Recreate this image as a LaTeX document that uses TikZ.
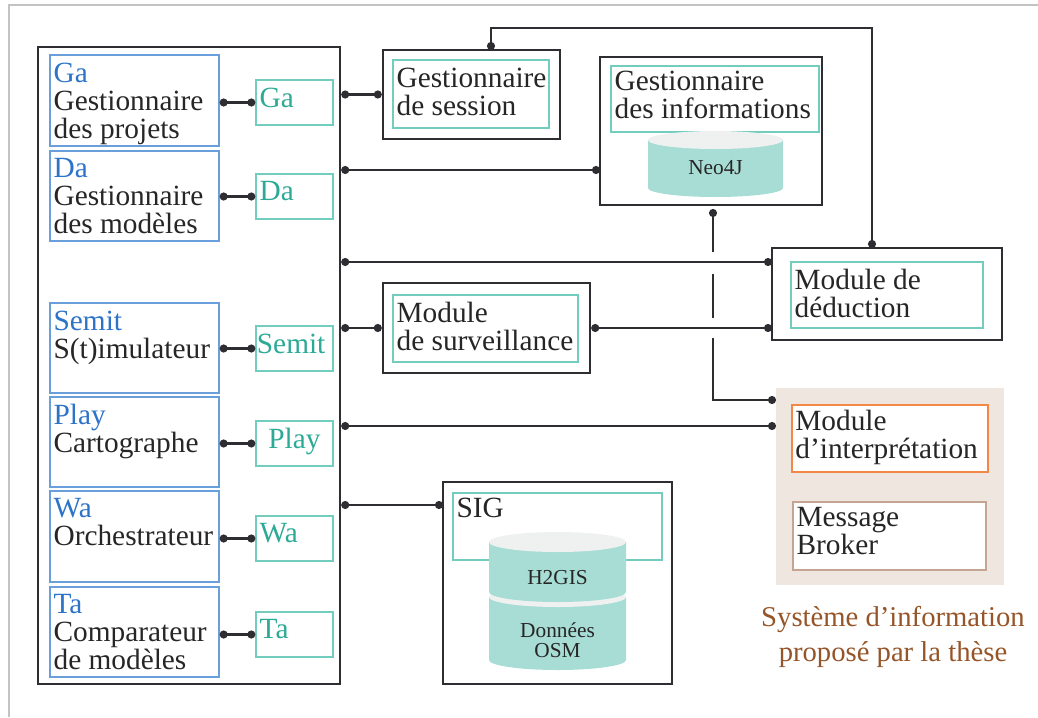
\documentclass[tikz,border=0pt]{standalone}
\usepackage{fontspec}
\setmainfont{Liberation Serif}
\usetikzlibrary{fit,calc,arrows.meta}

\definecolor{frameGrey}{RGB}{195,195,195}
\definecolor{lineDark}{RGB}{45,45,50}
\definecolor{boxBlue}{RGB}{105,160,220}
\definecolor{txtBlue}{RGB}{45,115,200}
\definecolor{boxTeal}{RGB}{115,205,190}
\definecolor{txtTeal}{RGB}{45,170,150}
\definecolor{dbBody}{RGB}{168,221,213}
\definecolor{dbTop}{RGB}{238,241,240}
\definecolor{sysBeige}{RGB}{239,230,223}
\definecolor{boxOrange}{RGB}{242,135,70}
\definecolor{boxBrown}{RGB}{195,165,145}
\definecolor{capBrown}{RGB}{150,85,40}

\begin{document}
\begin{tikzpicture}[x=0.75pt,y=-0.75pt,
  outer/.style={draw=lineDark,line width=1.8pt,inner sep=0pt},
  bluebox/.style={draw=boxBlue,line width=1pt,inner sep=0pt},
  tealbox/.style={draw=boxTeal,line width=1pt,inner sep=0pt},
  txt/.style={anchor=north west,inner xsep=3pt,inner ysep=6pt,align=left,text=black!85,
    font=\fontsize{22}{21}\selectfont},
  dbtxt/.style={inner sep=0pt,align=center,text=black!85,
    font=\fontsize{16}{15}\selectfont},
  wire/.style={draw=lineDark,line width=1.6pt},
  link/.style={wire,{Circle[length=6pt]}-{Circle[length=6pt]}},
]
\useasboundingbox (0,0) rectangle (1038,717);

% page frame
\draw[frameGrey,line width=1.5pt] (9,717) -- (9,5) -- (1038,5);

% client side
\node[outer,fit={(38,47) (340,684)}] (main) {};

\node[bluebox,fit={(50,55) (219,146)}] (gaB) {};
\node[txt] at (gaB.north west) {\textcolor{txtBlue}{Ga}\\Gestionnaire\\des projets};
\node[bluebox,fit={(50,151) (219,241)}] (daB) {};
\node[txt] at (daB.north west) {\textcolor{txtBlue}{Da}\\Gestionnaire\\des modèles};
\node[bluebox,fit={(50,303) (219,393)}] (semitB) {};
\node[txt] at (semitB.north west) {\textcolor{txtBlue}{Semit}\\S(t)imulateur};
\node[bluebox,fit={(50,397) (219,487)}] (playB) {};
\node[txt] at (playB.north west) {\textcolor{txtBlue}{Play}\\Cartographe};
\node[bluebox,fit={(50,491) (219,582)}] (waB) {};
\node[txt] at (waB.north west) {\textcolor{txtBlue}{Wa}\\Orchestrateur};
\node[bluebox,fit={(50,587) (219,677)}] (taB) {};
\node[txt] at (taB.north west) {\textcolor{txtBlue}{Ta}\\Comparateur\\de modèles};

\node[tealbox,fit={(256,80) (333,125)}] (gaT) {};
\node[txt,text=txtTeal] at (gaT.north west) {Ga};
\node[tealbox,fit={(256,174) (333,219)}] (daT) {};
\node[txt,text=txtTeal] at (daT.north west) {Da};
\node[tealbox,fit={(256,326) (333,371)}] (semitT) {};
\node[txt,text=txtTeal,inner xsep=1pt] at (semitT.north west) {Semit};
\node[tealbox,fit={(256,421) (333,466)}] (playT) {};
\node[txt,text=txtTeal,anchor=north] at (playT.north) {Play};
\node[tealbox,fit={(256,516) (333,561)}] (waT) {};
\node[txt,text=txtTeal] at (waT.north west) {Wa};
\node[tealbox,fit={(256,612) (333,657)}] (taT) {};
\node[txt,text=txtTeal] at (taT.north west) {Ta};

\foreach \m in {ga,da,semit,play,wa,ta}
  \draw[link] (\m B.east |- \m T.west) -- (\m T.west);

% server side
\node[outer,fit={(383,50) (560,139)}] (sess) {};
\node[tealbox,fit={(393,60) (549,128)}] (sessIn) {};
\node[txt] at (sessIn.north west) {Gestionnaire\\de session};

\node[outer,fit={(600,57) (822,205)}] (info) {};
\node[tealbox,fit={(611,66) (819,132)}] (infoIn) {};
\node[txt,inner ysep=4pt] at (infoIn.north west) {Gestionnaire\\des informations};
\fill[dbBody] (648,140) -- (648,188) arc[start angle=180,end angle=0,x radius=67.5,y radius=9] -- (783,140) -- cycle;
\fill[dbTop] (715.5,140) ellipse [x radius=67.5,y radius=9];
\node[dbtxt] (neo) at (715.5,168) {Neo4J};

\node[outer,fit={(772,248) (1002,340)}] (ded) {};
\node[tealbox,fit={(791,262) (983,328)}] (dedIn) {};
\node[txt] at (dedIn.north west) {Module de\\déduction};

\node[outer,fit={(383,283) (590,373)}] (surv) {};
\node[tealbox,fit={(393,295) (578,362)}] (survIn) {};
\node[txt] at (survIn.north west) {Module\\de surveillance};

\node[fill=sysBeige,inner sep=0pt,fit={(776,388) (1004,585)}] (sysArea) {};
\node[draw=boxOrange,fill=white,line width=1.3pt,inner sep=0pt,fit={(792,405) (988,472)}] (interp) {};
\node[txt,inner ysep=4pt] at (interp.north west) {Module\\d’interprétation};
\node[draw=boxBrown,fill=white,line width=1pt,inner sep=0pt,fit={(793,502) (986,570)}] (broker) {};
\node[txt,inner ysep=4pt] at (broker.north west) {Message\\Broker};
\node[align=center,text=capBrown,font=\fontsize{21.5}{26}\selectfont] (caption) at (893,637)
  {Système d’information\\proposé par la thèse};

\node[outer,fit={(443,482) (672,684)}] (sig) {};
\node[tealbox,fit={(453,493) (662,560)}] (sigIn) {};
\node[txt,inner ysep=4pt] at (sigIn.north west) {SIG};
\fill[dbBody] (489,597) -- (489,660) arc[start angle=180,end angle=0,x radius=68.5,y radius=10] -- (626,597) -- cycle;
\fill[dbTop] (557.5,597) ellipse [x radius=68.5,y radius=10];
\fill[dbBody] (489,542) -- (489,592) arc[start angle=180,end angle=0,x radius=68.5,y radius=10] -- (626,542) -- cycle;
\fill[dbTop] (557.5,542) ellipse [x radius=68.5,y radius=10];
\node[dbtxt] (h2gis) at (557.5,578) {H2GIS};
\node[dbtxt] (osm) at (557.5,640) {Données\\OSM};

% connectors
\coordinate (infoTap) at (600,170);
\coordinate (dedTapA) at (772,262);
\coordinate (dedTapB) at (772,328);
\coordinate (interpTapA) at (776,400);
\coordinate (interpTapB) at (776,426);
\coordinate (sigTap) at (443,505);
\coordinate (sessTop) at (491,50);
\coordinate (dedTop) at (872,248);
\coordinate (busTop) at (872,28);
\coordinate (infoBot) at (713,209);

\draw[link] (main.east |- sess.west) -- (sess.west);
\draw[link] (main.east |- infoTap) -- (infoTap);
\draw[link] (main.east |- dedTapA) -- (dedTapA);
\draw[link] (main.east |- surv.west) -- (surv.west);
\draw[link] (surv.east |- dedTapB) -- (dedTapB);
\draw[link] (main.east |- interpTapB) -- (interpTapB);
\draw[link] (main.east |- sigTap) -- (sigTap);
\draw[link] (sessTop) -- (sessTop |- busTop) -- (busTop) -- (dedTop);

% line from the information manager, broken where it crosses
\draw[wire,{Circle[length=6pt]}-] (infoBot) -- ($(infoBot |- dedTapA)+(0,-10)$);
\draw[wire] ($(infoBot |- dedTapA)+(0,12)$) -- ($(infoBot |- dedTapB)+(0,-10)$);
\draw[wire,-{Circle[length=6pt]}] ($(infoBot |- dedTapB)+(0,10)$) |- (interpTapA);

\end{tikzpicture}
\end{document}
